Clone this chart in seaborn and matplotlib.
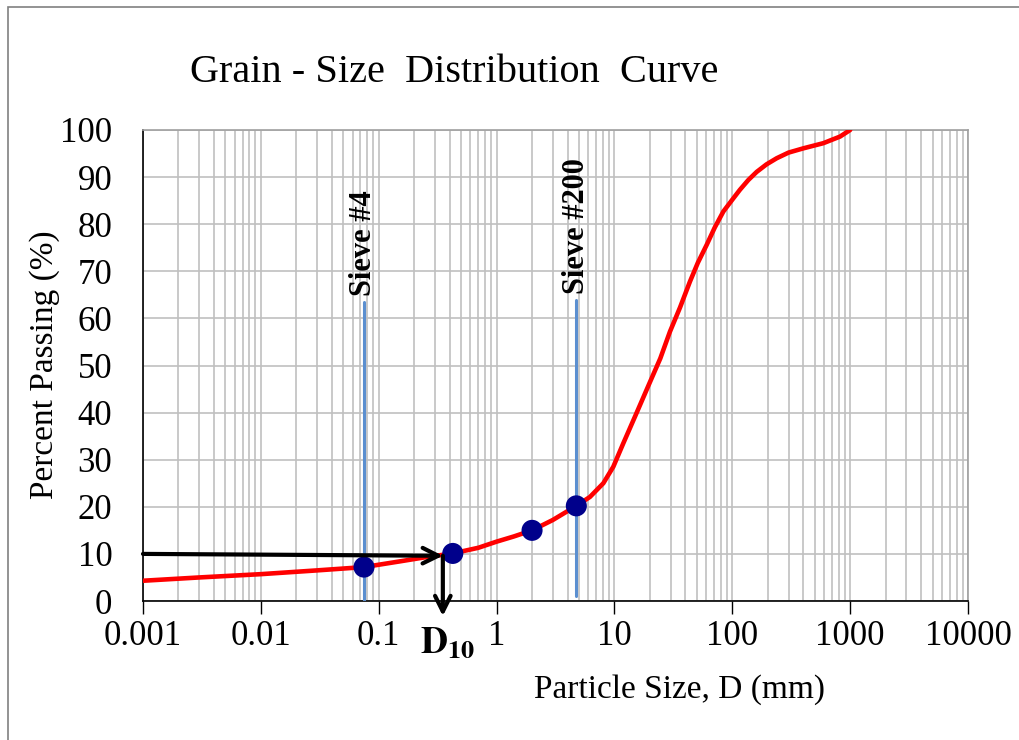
import matplotlib
matplotlib.use("Agg")
import matplotlib.pyplot as plt
import matplotlib.ticker as mticker
from matplotlib.patches import Rectangle, FancyArrowPatch
import seaborn as sns
import pandas as pd

# grain size curve
diam = [0.001, 0.003, 0.01, 0.03, 0.075, 0.15, 0.25, 0.425, 0.7, 1.0, 1.4,
        2.0, 3.0, 4.75, 6.2, 8.05, 9.78, 11.9, 15.4, 19.8, 24.5, 29.6, 36,
        43.7, 51, 60.6, 71, 84, 100, 116, 137, 161, 195, 238, 300, 400, 592,
        820, 1000]
passing = [4.3, 5.0, 5.7, 6.5, 7.2, 8.4, 9.3, 10.1, 11.3, 12.6, 13.7,
           15.0, 17.2, 20.2, 22.1, 25.0, 28.5, 33.5, 39.9, 46.2, 51.5, 57.2, 62.3,
           67.8, 71.8, 75.6, 79.3, 82.7, 85.2, 87.3, 89.4, 91.1, 92.7, 94.0, 95.2, 96.1, 97.2,
           98.6, 100]

# sieve test points
sieve_d = [0.075, 0.425, 2.0, 4.75]
sieve_p = [7.2, 10.1, 15.0, 20.2]

# marked sieve lines
sieve_names = ["Sieve #4", "Sieve #200"]
sieve_x = [0.075, 4.75]
sieve_top = [63.5, 64.0]
sieve_bottom = [0, 1]

d10 = 0.35
p10 = 10

curve = pd.DataFrame({"D": diam, "P": passing})
points = pd.DataFrame({"D": sieve_d, "P": sieve_p})

sns.set_theme(style="white")
plt.rcParams["font.family"] = ["Liberation Serif", "DejaVu Serif"]
plt.rcParams["mathtext.fontset"] = "stix"
plt.rcParams["text.color"] = "black"
plt.rcParams["xtick.color"] = "black"
plt.rcParams["ytick.color"] = "black"
plt.rcParams["axes.labelcolor"] = "black"

fig = plt.figure(figsize=(10.19, 7.4), dpi=100)
ax = fig.add_axes([143/1019, 1 - 601/740, 825/1019, 471/740])

ax.set_xscale("log")
ax.set_xlim(0.001, 10000)
ax.set_ylim(0, 100)

# grid
ax.xaxis.set_major_locator(mticker.LogLocator(base=10, numticks=20))
ax.xaxis.set_minor_locator(mticker.LogLocator(base=10, subs=range(2, 10), numticks=100))
ax.xaxis.set_minor_formatter(mticker.NullFormatter())
ax.xaxis.set_major_formatter(mticker.FuncFormatter(lambda v, p: f"{v:g}"))
ax.set_yticks(range(0, 101, 10))
ax.grid(True, which="both", axis="x", color="#c0c0c0", lw=1.2)
ax.grid(True, which="major", axis="y", color="#c0c0c0", lw=1.2)

for name, xv, top, bot in zip(sieve_names, sieve_x, sieve_top, sieve_bottom):
    ax.plot([xv, xv], [bot, top], color="#5b8fd0", lw=2.2, zorder=3)
    ax.text(xv, top + 1.2, name, rotation=90, ha="center", va="bottom",
            fontsize=22, fontweight="bold")

sns.lineplot(data=curve, x="D", y="P", color="red", lw=3.3, ax=ax, zorder=4,
             sort=False)
sns.scatterplot(data=points, x="D", y="P", color="#00008b", s=230,
                edgecolor="none", ax=ax, zorder=5)

# D10 arrows
for start, end in [((0.001, p10), (d10, 9.6)), ((d10, 9.6), (d10, -3.2))]:
    arr = FancyArrowPatch(start, end, arrowstyle="->", lw=3, color="black",
                          mutation_scale=28, shrinkA=0, shrinkB=0,
                          zorder=6, clip_on=False)
    ax.add_patch(arr)
ax.text(d10 * 1.1, -5.3, r"$\mathbf{D}_{\mathbf{10}}$", ha="center", va="top",
        fontsize=27)

ax.set_xlabel("")
ax.set_ylabel("")
ax.tick_params(axis="x", which="major", direction="out", length=9, width=1,
               color="black", labelsize=25, pad=5, bottom=True)
ax.tick_params(axis="x", which="minor", length=0)
ax.tick_params(axis="y", length=0, labelsize=25, pad=22)

for side in ["left", "bottom"]:
    ax.spines[side].set_color("black")
    ax.spines[side].set_linewidth(1.2)
for side in ["top", "right"]:
    ax.spines[side].set_color("#a0a0a0")
    ax.spines[side].set_linewidth(1.2)

fig.text(454/1019, 1 - 72/740, "Grain - Size  Distribution  Curve",
         ha="center", va="center", fontsize=29)
fig.text(45/1019, 1 - 365/740, "Percent Passing (%)", rotation=90,
         ha="center", va="center", fontsize=24)
fig.text(680/1019, 1 - 690/740, "Particle Size, D (mm)",
         ha="center", va="center", fontsize=24)

fig.patches.append(Rectangle((8/1019, -0.1), 2, 1.1 - 7/740,
                             transform=fig.transFigure, fill=False,
                             edgecolor="#808080", lw=1.2))

fig.savefig("out.png", dpi=100)
